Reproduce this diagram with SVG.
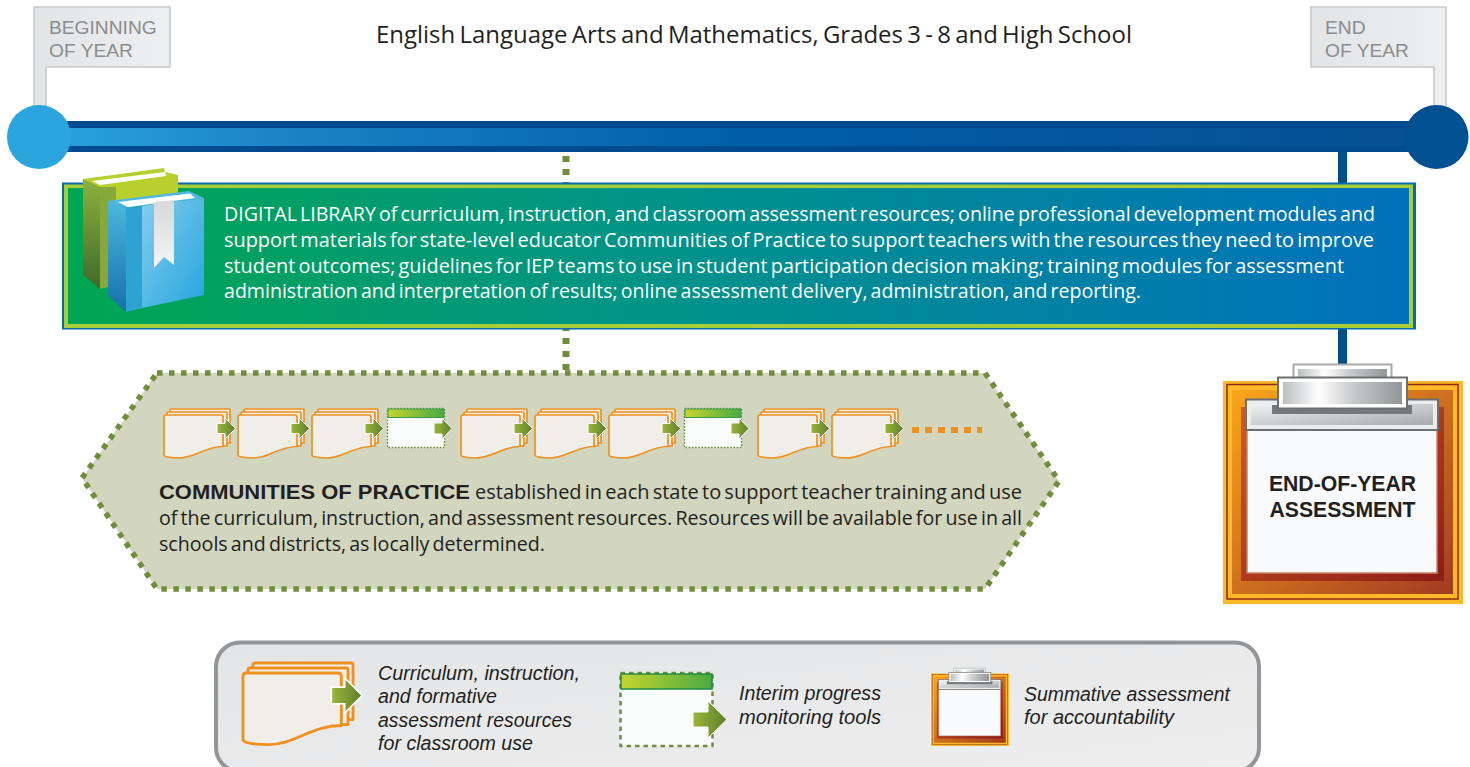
<svg xmlns="http://www.w3.org/2000/svg" width="1470" height="767" viewBox="0 0 1470 767">
<style>
.sans{font-family:"Liberation Sans",Arial,sans-serif}
.body{font-family:"Open Sans","Noto Sans",sans-serif;font-size:20px;word-spacing:-2px}
.flag{fill:url(#gFlag);stroke:#c7c8ca;stroke-width:1.6}
.flagt{font-size:19.2px;fill:#8a8c8e}
.ink{fill:#231f20}
.boxt{fill:#fff}
.leg{font-size:19.6px;font-style:italic;fill:#231f20}
.sheet{fill:#f0eee8;stroke:#f0901e;stroke-width:1.7;stroke-linejoin:round}
.arr{fill:url(#gArrow);stroke:#fff;stroke-width:1}
</style>
<defs>
<linearGradient id="gFlag" x1="0" x2="1" y1="0" y2="0"><stop offset="0" stop-color="#e3e4e5"/><stop offset="1" stop-color="#eeeff0"/></linearGradient>
<linearGradient id="gBar" x1="0" x2="1" y1="0" y2="0"><stop offset="0" stop-color="#29a5de"/><stop offset=".17" stop-color="#1b84c6"/><stop offset=".5" stop-color="#005fa9"/><stop offset="1" stop-color="#084f92"/></linearGradient>
<linearGradient id="gBox" x1="0" x2="1" y1="0" y2="0"><stop offset="0" stop-color="#00a651"/><stop offset=".45" stop-color="#00938a"/><stop offset="1" stop-color="#0071bc"/></linearGradient>
<linearGradient id="gArrow" x1="0" x2="1" y1="0" y2="0"><stop offset="0" stop-color="#9ab53a"/><stop offset="1" stop-color="#5f7f2d"/></linearGradient>
<linearGradient id="gHead" x1="0" x2="1" y1="0" y2="0"><stop offset="0" stop-color="#c4d62e"/><stop offset="1" stop-color="#4aa944"/></linearGradient>
<linearGradient id="gOrange" x1="0" y1="0" x2="1" y2="1"><stop offset="0" stop-color="#faa61a"/><stop offset="1" stop-color="#a23a22"/></linearGradient>
<linearGradient id="gRed" x1="0" y1="0" x2="1" y2="1"><stop offset="0" stop-color="#d2591f"/><stop offset="1" stop-color="#8c1d18"/></linearGradient>
<linearGradient id="gChrome" x1="0" x2="1" y1="0" y2="0"><stop offset="0" stop-color="#bcbec0"/><stop offset=".3" stop-color="#fff"/><stop offset=".6" stop-color="#c7c8ca"/><stop offset="1" stop-color="#939598"/></linearGradient>
<linearGradient id="gBarGray" x1="0" y1="0" x2="1" y2="1"><stop offset="0" stop-color="#f1f2f2"/><stop offset="1" stop-color="#a7a9ac"/></linearGradient>
<linearGradient id="gLeg" x1="0" y1="0" x2="1" y2="1"><stop offset="0" stop-color="#e4e5e6"/><stop offset="1" stop-color="#eeeeef"/></linearGradient>
<linearGradient id="gSpine" x1="0" y1="0" x2="0" y2="1"><stop offset="0" stop-color="#8db03c"/><stop offset="1" stop-color="#3f6a2d"/></linearGradient>
<linearGradient id="gBlueSp" x1="0" y1="0" x2="0" y2="1"><stop offset="0" stop-color="#4cb8dc"/><stop offset="1" stop-color="#176fab"/></linearGradient>
<linearGradient id="gBlueFr" x1="0" y1="0" x2="1" y2="1"><stop offset="0" stop-color="#86cdee"/><stop offset="1" stop-color="#25a5dd"/></linearGradient>
<linearGradient id="gMark" x1="0" y1="0" x2="0" y2="1"><stop offset="0" stop-color="#d7d8da"/><stop offset="1" stop-color="#f5f5f5"/></linearGradient>
<g id="doc">
<path class="sheet" d="M6 1q0-1 1-1H65q1 0 1 1V34H6Z"/>
<path class="sheet" d="M3 4q0-1 1-1H62q1 0 1 1V37H3Z"/>
<path class="sheet" d="M0 8q0-2 2-2H57q2 0 2 2V37.500C41 37.500 31 49 15 49C8 49 0 48 0 46Z"/>
<path class="arr" d="M53 14.500H61V9L71.500 19.500L61 30V24.500H53Z"/>
</g>
<g id="tool">
<rect x=".5" y=".5" width="57" height="39" fill="#fafbfb" stroke="#6f8d3a" stroke-width="1.4" stroke-dasharray="1.600 1.600"/>
<rect x="1" y="1" width="56" height="8.500" fill="url(#gHead)" stroke="#3a9a48" stroke-width="1"/>
<path class="arr" d="M47 15H55V10L65 20.500L55 31V26H47Z"/>
</g>
<g id="clip">
<rect x="1223" y="381" width="240" height="223" fill="#fdb927"/>
<rect x="1227" y="384.500" width="231" height="214.500" fill="#fdb927" stroke="#8f2a1a" stroke-width="1.500"/>
<rect x="1232" y="390" width="221" height="204" fill="url(#gOrange)"/>
<rect x="1241" y="407" width="203" height="174" fill="url(#gRed)"/>
<rect x="1247" y="430" width="190" height="143" fill="#f9fafb" stroke="#c5826a" stroke-width="1.500"/>
<rect x="1246" y="399.500" width="192" height="30.500" fill="#eceded" stroke="#6d6e71" stroke-width="2"/>
<rect x="1251" y="404" width="182" height="21" fill="url(#gBarGray)"/>
<rect x="1272" y="405" width="140" height="9" fill="#77787b"/>
<rect x="1293.500" y="364.500" width="98" height="16" fill="#fff" stroke="#a7a9ac" stroke-width="2"/>
<rect x="1298" y="369" width="89" height="9" fill="url(#gChrome)"/>
<rect x="1278" y="377.500" width="129" height="31" fill="#fff" stroke="#6d6e71" stroke-width="2"/>
<rect x="1283" y="382" width="119" height="22" fill="url(#gChrome)"/>
</g>
</defs>

<g id="connectors">
<path d="M566 156V372" fill="none" stroke="#6f8d3a" stroke-width="7" stroke-dasharray="6 7"/>
<path d="M1342.500 150V368" fill="none" stroke="#004f86" stroke-width="9"/>
</g>

<g id="flag-begin">
<path class="flag" d="M34 110V7H170V67H46V110"/>
<text class="sans flagt" x="49" y="34">BEGINNING</text>
<text class="sans flagt" x="49" y="57">OF YEAR</text>
</g>
<g id="flag-end">
<path class="flag" d="M1446 110V7H1311V67H1434V110"/>
<text class="sans flagt" x="1325" y="34">END</text>
<text class="sans flagt" x="1325" y="57">OF YEAR</text>
</g>

<g id="title">
<text class="body" style="font-size:24.500px;word-spacing:-2px" x="376" y="43" textLength="756" lengthAdjust="spacingAndGlyphs" fill="#231f20">English Language Arts and Mathematics, Grades 3 - 8 and High School</text>
</g>

<g id="timeline">
<rect x="39" y="121" width="1397" height="31" fill="#004b8f"/>
<rect x="39" y="128" width="1397" height="18" fill="url(#gBar)"/>
<circle cx="39" cy="137" r="32" fill="#2aa5dd"/>
<circle cx="1436.500" cy="137" r="32" fill="#005092"/>
</g>

<g id="digital-library">
<rect x="62" y="182.500" width="1354" height="147" fill="#0a6ab0"/>
<rect x="64" y="184.500" width="1349" height="143.500" fill="#a6ce39"/>
<rect x="68" y="188" width="1341" height="136" fill="url(#gBox)"/>
<g id="books">
<path d="M83 179L164 168L165 172L178 175V205H100Z" fill="#b8d02e"/>
<path d="M92 181L165 172L166 176L100 185Z" fill="#fff"/>
<path d="M83 179L100 187V289L83 275Z" fill="url(#gSpine)"/>
<path d="M100 187H116V285L100 289Z" fill="#86a93a"/>
<path d="M108 201L189 191L204 198L126 208Z" fill="#4fb9e6"/>
<path d="M118 202L190 193.500L195 198L128 207Z" fill="#fff"/>
<path d="M108 201L126 208V312L108 295Z" fill="url(#gBlueSp)"/>
<path d="M126 208L143 206V308L126 312Z" fill="#2ea3d2"/>
<path d="M142 206L204 198V295L142 308Z" fill="url(#gBlueFr)"/>
<path d="M154 202L174 200V265L164 257L154 268Z" fill="url(#gMark)"/>
</g>
<g class="body boxt">
<text x="224" y="221" textLength="1151" lengthAdjust="spacingAndGlyphs">DIGITAL LIBRARY of curriculum, instruction, and classroom assessment resources; online professional development modules and</text>
<text x="224" y="247" textLength="1150" lengthAdjust="spacingAndGlyphs">support materials for state-level educator Communities of Practice to support teachers with the resources they need to improve</text>
<text x="224" y="273" textLength="1120" lengthAdjust="spacingAndGlyphs">student outcomes; guidelines for IEP teams to use in student participation decision making; training modules for assessment</text>
<text x="224" y="298" textLength="917" lengthAdjust="spacingAndGlyphs">administration and interpretation of results; online assessment delivery, administration, and reporting.</text>
</g>
</g>

<g id="communities">
<path d="M157 373H985L1059 481L985 589H157L82 478Z" fill="#d2d6bf" stroke="#6f8d3a" stroke-width="5.500" stroke-dasharray="5.500 6.500"/>
<use href="#doc" x="164" y="409"/>
<use href="#doc" x="238" y="409"/>
<use href="#doc" x="312" y="409"/>
<use href="#tool" x="387" y="408"/>
<use href="#doc" x="461" y="409"/>
<use href="#doc" x="535" y="409"/>
<use href="#doc" x="609" y="409"/>
<use href="#tool" x="684" y="408"/>
<use href="#doc" x="758" y="409"/>
<use href="#doc" x="832" y="409"/>
<path d="M912 430H982" fill="none" stroke="#f0901e" stroke-width="6" stroke-dasharray="7 6"/>
<text class="sans ink" style="font-weight:700;font-size:20px" x="159" y="499" textLength="311" lengthAdjust="spacingAndGlyphs">COMMUNITIES OF PRACTICE</text>
<text class="body ink" x="475" y="499" textLength="547" lengthAdjust="spacingAndGlyphs">established in each state to support teacher training and use</text>
<text class="body ink" x="159" y="525" textLength="863" lengthAdjust="spacingAndGlyphs">of the curriculum, instruction, and assessment resources. Resources will be available for use in all</text>
<text class="body ink" x="159" y="551" textLength="386" lengthAdjust="spacingAndGlyphs">schools and districts, as locally determined.</text>
</g>

<g id="end-assessment">
<use href="#clip"/>
<g class="sans ink" style="font-weight:700;font-size:21.200px" text-anchor="middle">
<text x="1342.500" y="491">END-OF-YEAR</text>
<text x="1342.500" y="517">ASSESSMENT</text>
</g>
</g>

<g id="legend">
<rect x="216" y="642.500" width="1043" height="129" rx="24" fill="url(#gLeg)" stroke="#939598" stroke-width="4"/>
<use href="#doc" transform="translate(243 663) scale(1.667)"/>
<g class="sans leg">
<text x="378" y="680" textLength="202" lengthAdjust="spacingAndGlyphs">Curriculum, instruction,</text>
<text x="378" y="703" textLength="119" lengthAdjust="spacingAndGlyphs">and formative</text>
<text x="378" y="727" textLength="194" lengthAdjust="spacingAndGlyphs">assessment resources</text>
<text x="378" y="750" textLength="155" lengthAdjust="spacingAndGlyphs">for classroom use</text>
<text x="739" y="700" textLength="142" lengthAdjust="spacingAndGlyphs">Interim progress</text>
<text x="739" y="724" textLength="142" lengthAdjust="spacingAndGlyphs">monitoring tools</text>
<text x="1024" y="701" textLength="206" lengthAdjust="spacingAndGlyphs">Summative assessment</text>
<text x="1024" y="724" textLength="150" lengthAdjust="spacingAndGlyphs">for accountability</text>
</g>
<g id="legend-tool">
<rect x="620.500" y="673" width="92" height="73" fill="#fafbfb" stroke="#6f8d3a" stroke-width="2.500" stroke-dasharray="4.500 4"/>
<rect x="621" y="674" width="91" height="15" fill="url(#gHead)" stroke="#1f8a44" stroke-width="1.500"/>
<path class="arr" d="M693 712H708V701L727 719.500L708 738V727H693Z"/>
</g>
<use href="#clip" transform="translate(931 668) scale(.325) translate(-1223 -364)"/>
</g>
</svg>
